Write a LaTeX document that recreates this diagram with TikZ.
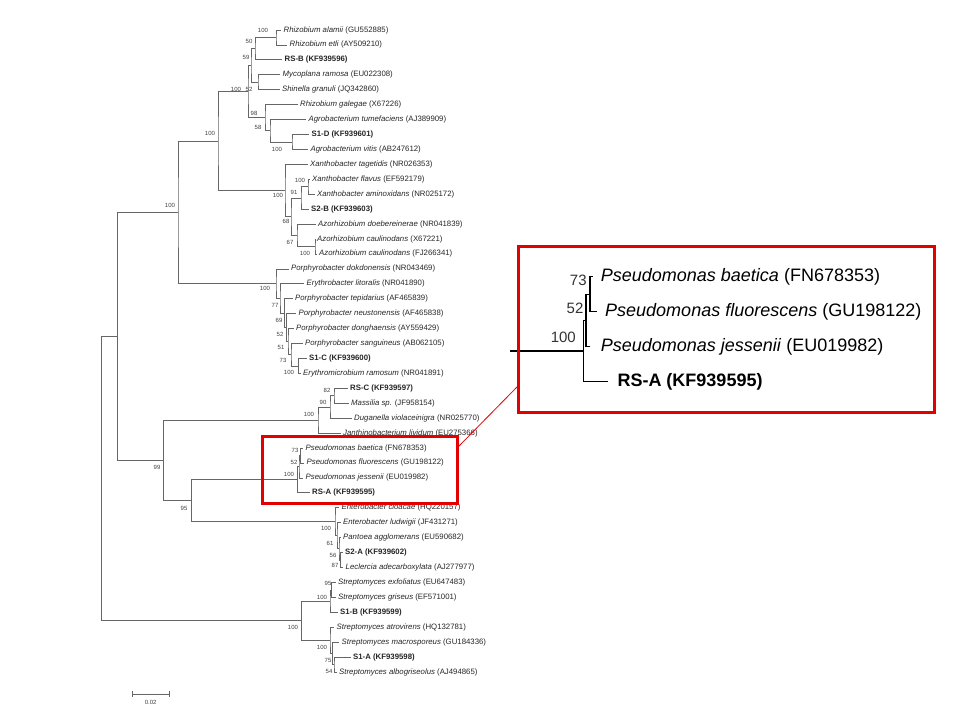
\documentclass[tikz,border=0pt]{standalone}
\usepackage{fontspec}
\setmainfont{Liberation Sans}
\usetikzlibrary{calc}
\definecolor{boxred}{RGB}{226,0,0}
\tikzset{
  br/.style={draw=black!60, line width=0.75pt},
  leaftext/.style={anchor=west, inner sep=0pt, font=\fontsize{7.8}{9}\selectfont, text=black!85},
  bs/.style={inner sep=0pt, font=\fontsize{6}{7}\selectfont, text=black!75},
  ibr/.style={draw=black, line width=1.3pt},
  itext/.style={anchor=west, inner sep=0pt, font=\fontsize{18}{21}\selectfont, text=black},
  ibs/.style={inner sep=0pt, font=\fontsize{15}{17}\selectfont, text=black!80},
  redbox/.style={draw=boxred, line width=3pt, inner sep=0pt},
}
\newcommand{\mkleaf}[4]{\coordinate (#1) at (#2,#3); \node[leaftext] (#1t) at ([xshift=2.5pt]#1) {#4};}
\begin{document}
\begin{tikzpicture}[x=1pt,y=-1pt]
\fill[white] (0,0) rectangle (960,720);
\useasboundingbox (0,0) rectangle (960,720);
% leaves
\mkleaf{L1}{281}{30.00}{\textit{Rhizobium alamii} (GU552885)}
\mkleaf{L2}{287}{44.93}{\textit{Rhizobium etli} (AY509210)}
\mkleaf{L3}{282}{59.86}{\textbf{RS-B (KF939596)}}
\mkleaf{L4}{280}{74.79}{\textit{Mycoplana ramosa} (EU022308)}
\mkleaf{L5}{279.5}{89.72}{\textit{Shinella granuli} (JQ342860)}
\mkleaf{L6}{297.5}{104.65}{\textit{Rhizobium galegae} (X67226)}
\mkleaf{L7}{306}{119.58}{\textit{Agrobacterium tumefaciens} (AJ389909)}
\mkleaf{L8}{309}{134.51}{\textbf{S1-D (KF939601)}}
\mkleaf{L9}{308}{149.44}{\textit{Agrobacterium vitis} (AB247612)}
\mkleaf{L10}{307.5}{164.37}{\textit{Xanthobacter tagetidis} (NR026353)}
\mkleaf{L11}{309.5}{179.30}{\textit{Xanthobacter flavus} (EF592179)}
\mkleaf{L12}{314.5}{194.23}{\textit{Xanthobacter aminoxidans} (NR025172)}
\mkleaf{L13}{308.5}{209.16}{\textbf{S2-B (KF939603)}}
\mkleaf{L14}{315.5}{224.09}{\textit{Azorhizobium doebereinerae} (NR041839)}
\mkleaf{L15}{314.5}{239.02}{\textit{Azorhizobium caulinodans} (X67221)}
\mkleaf{L16}{316.5}{253.95}{\textit{Azorhizobium caulinodans} (FJ266341)}
\mkleaf{L17}{288.5}{268.88}{\textit{Porphyrobacter dokdonensis} (NR043469)}
\mkleaf{L18}{304}{283.81}{\textit{Erythrobacter litoralis} (NR041890)}
\mkleaf{L19}{292.5}{298.74}{\textit{Porphyrobacter tepidarius} (AF465839)}
\mkleaf{L20}{296}{313.67}{\textit{Porphyrobacter neustonensis} (AF465838)}
\mkleaf{L21}{293.5}{328.60}{\textit{Porphyrobacter donghaensis} (AY559429)}
\mkleaf{L22}{302.5}{343.53}{\textit{Porphyrobacter sanguineus} (AB062105)}
\mkleaf{L23}{306.5}{358.46}{\textbf{S1-C (KF939600)}}
\mkleaf{L24}{300.5}{373.39}{\textit{Erythromicrobium ramosum} (NR041891)}
\mkleaf{L25}{347.5}{388.32}{\textbf{RS-C (KF939597)}}
\mkleaf{L26}{348.5}{403.25}{\textit{Massilia sp.} (JF958154)}
\mkleaf{L27}{351.5}{418.18}{\textit{Duganella violaceinigra} (NR025770)}
\mkleaf{L28}{340.5}{433.11}{\textit{Janthinobacterium lividum} (EU275366)}
\mkleaf{L29}{303}{448.04}{\textit{Pseudomonas baetica} (FN678353)}
\mkleaf{L30}{304}{462.97}{\textit{Pseudomonas fluorescens} (GU198122)}
\mkleaf{L31}{303}{477.90}{\textit{Pseudomonas jessenii} (EU019982)}
\mkleaf{L32}{309.5}{492.83}{\textbf{RS-A (KF939595)}}
\mkleaf{L33}{339}{507.76}{\textit{Enterobacter cloacae} (HQ220157)}
\mkleaf{L34}{340.5}{522.69}{\textit{Enterobacter ludwigii} (JF431271)}
\mkleaf{L35}{340.5}{537.62}{\textit{Pantoea agglomerans} (EU590682)}
\mkleaf{L36}{342.5}{552.55}{\textbf{S2-A (KF939602)}}
\mkleaf{L37}{343}{567.48}{\textit{Leclercia adecarboxylata} (AJ277977)}
\mkleaf{L38}{335.5}{582.41}{\textit{Streptomyces exfoliatus} (EU647483)}
\mkleaf{L39}{335.5}{597.34}{\textit{Streptomyces griseus} (EF571001)}
\mkleaf{L40}{337.5}{612.27}{\textbf{S1-B (KF939599)}}
\mkleaf{L41}{334}{627.20}{\textit{Streptomyces atrovirens} (HQ132781)}
\mkleaf{L42}{339}{642.13}{\textit{Streptomyces macrosporeus} (GU184336)}
\mkleaf{L43}{350.5}{657.06}{\textbf{S1-A (KF939598)}}
\mkleaf{L44}{336.5}{671.99}{\textit{Streptomyces albogriseolus} (AJ494865)}
% internal nodes
\coordinate (ae) at (276,37.47);
\coordinate (aeR) at (255,48.66);
\coordinate (MS) at (258,82.26);
\coordinate (n59) at (251,65.46);
\coordinate (SV) at (292,141.98);
\coordinate (n58) at (270,130.78);
\coordinate (n98) at (265,117.71);
\coordinate (R) at (248,91.59);
\coordinate (fa) at (308,186.77);
\coordinate (n91) at (301,197.96);
\coordinate (Az) at (315,246.49);
\coordinate (n67) at (297,235.29);
\coordinate (n68) at (291,216.63);
\coordinate (X) at (285,190.50);
\coordinate (al1) at (218,141.05);
\coordinate (SE) at (298.5,365.93);
\coordinate (n73p) at (291,354.73);
\coordinate (n51) at (288,341.67);
\coordinate (n52p) at (286.5,327.67);
\coordinate (n69) at (284.5,313.21);
\coordinate (n77) at (280,298.51);
\coordinate (P100) at (276,283.70);
\coordinate (top) at (178,212.38);
\coordinate (RM) at (334,395.79);
\coordinate (n90) at (330,406.99);
\coordinate (b100) at (318,420.05);
\coordinate (bf) at (300.5,455.51);
\coordinate (n52s) at (299,466.71);
\coordinate (Ps) at (297.5,479.77);
\coordinate (en87) at (340.5,560.02);
\coordinate (en56) at (339,548.82);
\coordinate (en61) at (337,535.76);
\coordinate (en100) at (335,521.76);
\coordinate (n95) at (191.7,500.77);
\coordinate (B) at (163.3,460.41);
\coordinate (A) at (117.7,336.40);
\coordinate (s95) at (331.7,589.88);
\coordinate (s100a) at (330,601.08);
\coordinate (s54) at (334,664.53);
\coordinate (s75) at (332.7,653.33);
\coordinate (st100) at (330,640.27);
\coordinate (S100) at (301.7,620.68);
\coordinate (root) at (101.7,478.54);
% branches
\draw[br] (L1) -| (ae) |- (L2);
\draw[br] (ae) -| (aeR) |- (L3);
\draw[br] (L4) -| (MS) |- (L5);
\draw[br] (aeR) -| (n59) |- (MS);
\draw[br] (L8) -| (SV) |- (L9);
\draw[br] (L7) -| (n58) |- (SV);
\draw[br] (L6) -| (n98) |- (n58);
\draw[br] (n59) -| (R) |- (n98);
\draw[br] (L11) -| (fa) |- (L12);
\draw[br] (fa) -| (n91) |- (L13);
\draw[br] (L15) -| (Az) |- (L16);
\draw[br] (L14) -| (n67) |- (Az);
\draw[br] (n91) -| (n68) |- (n67);
\draw[br] (L10) -| (X) |- (n68);
\draw[br] (R) -| (al1) |- (X);
\draw[br] (L23) -| (SE) |- (L24);
\draw[br] (L22) -| (n73p) |- (SE);
\draw[br] (L21) -| (n51) |- (n73p);
\draw[br] (L20) -| (n52p) |- (n51);
\draw[br] (L19) -| (n69) |- (n52p);
\draw[br] (L18) -| (n77) |- (n69);
\draw[br] (L17) -| (P100) |- (n77);
\draw[br] (al1) -| (top) |- (P100);
\draw[br] (L25) -| (RM) |- (L26);
\draw[br] (RM) -| (n90) |- (L27);
\draw[br] (n90) -| (b100) |- (L28);
\draw[br] (L29) -| (bf) |- (L30);
\draw[br] (bf) -| (n52s) |- (L31);
\draw[br] (n52s) -| (Ps) |- (L32);
\draw[br] (L36) -| (en87) |- (L37);
\draw[br] (L35) -| (en56) |- (en87);
\draw[br] (L34) -| (en61) |- (en56);
\draw[br] (L33) -| (en100) |- (en61);
\draw[br] (Ps) -| (n95) |- (en100);
\draw[br] (b100) -| (B) |- (n95);
\draw[br] (top) -| (A) |- (B);
\draw[br] (L38) -| (s95) |- (L39);
\draw[br] (s95) -| (s100a) |- (L40);
\draw[br] (L43) -| (s54) |- (L44);
\draw[br] (L42) -| (s75) |- (s54);
\draw[br] (L41) -| (st100) |- (s75);
\draw[br] (s100a) -| (S100) |- (st100);
\draw[br] (A) -| (root) |- (S100);
% bootstrap values
\node[bs] (b-ae) at (263,30) {100};
\node[bs] (b-aeR) at (249,41) {50};
\node[bs] (b-n59) at (246,57) {59};
\node[bs] (b-MS) at (249,89) {52};
\node[bs] (b-R) at (236,89) {100};
\node[bs] (b-n98) at (254,113) {98};
\node[bs] (b-n58) at (258,127) {58};
\node[bs] (b-SV) at (277,149) {100};
\node[bs] (b-al1) at (210,133) {100};
\node[bs] (b-X) at (278,195) {100};
\node[bs] (b-fa) at (300,180) {100};
\node[bs] (b-n91) at (294,192) {91};
\node[bs] (b-n68) at (286,221) {68};
\node[bs] (b-n67) at (290,242) {67};
\node[bs] (b-Az) at (305,253) {100};
\node[bs] (b-top) at (170,205) {100};
\node[bs] (b-P100) at (265,288) {100};
\node[bs] (b-n77) at (275,305) {77};
\node[bs] (b-n69) at (279,320) {69};
\node[bs] (b-n52p) at (280,334) {52};
\node[bs] (b-n51) at (281,347) {51};
\node[bs] (b-n73p) at (283,360) {73};
\node[bs] (b-SE) at (289,372) {100};
\node[bs] (b-RM) at (327,390) {82};
\node[bs] (b-n90) at (323,402) {90};
\node[bs] (b-b100) at (309,414) {100};
\node[bs] (b-bf) at (295,450) {73};
\node[bs] (b-n52s) at (294,462) {52};
\node[bs] (b-Ps) at (289,474) {100};
\node[bs] (b-B) at (157,467) {99};
\node[bs] (b-n95) at (184,508) {95};
\node[bs] (b-en100) at (326,528) {100};
\node[bs] (b-en61) at (330,543) {61};
\node[bs] (b-en56) at (333,555) {56};
\node[bs] (b-en87) at (335,565) {87};
\node[bs] (b-s95) at (328,583) {95};
\node[bs] (b-s100a) at (322,597) {100};
\node[bs] (b-S100) at (293,627) {100};
\node[bs] (b-st100) at (322,647) {100};
\node[bs] (b-s75) at (328,660) {75};
\node[bs] (b-s54) at (329,671) {54};
% scale bar
\coordinate (sb1) at (132.7,694);
\coordinate (sb2) at (169,694);
\draw[br] (sb1) -- (sb2);
\draw[br] ([yshift=3pt]sb1) -- ([yshift=-3pt]sb1);
\draw[br] ([yshift=3pt]sb2) -- ([yshift=-3pt]sb2);
\node[bs] (sbl) at (150.7,702.5) {0.02};
% inset
\coordinate (istem) at (510,351);
\coordinate (iP) at (583.3,351);
\coordinate (i52) at (586,320.4);
\coordinate (i73) at (590,294.2);
\coordinate (iL29) at (592.7,276.7);
\coordinate (iL30) at (596.7,311.7);
\coordinate (iL31) at (590,346.7);
\coordinate (iL32) at (608,381.7);
\draw[ibr] (istem) -- (iP);
\draw[ibr] (iL29) -| (i73) |- (iL30);
\draw[ibr] (i73) -| (i52) |- (iL31);
\draw[ibr] (i52) -| (iP) |- (iL32);
\node[itext] (iT29) at (600.7,276.7) {\textit{Pseudomonas baetica} (FN678353)};
\node[itext] (iT30) at (605,311.7) {\textit{Pseudomonas fluorescens} (GU198122)};
\node[itext] (iT31) at (600.7,346.7) {\textit{Pseudomonas jessenii} (EU019982)};
\node[itext] (iT32) at (617.3,381.7) {\textbf{RS-A (KF939595)}};
\node[ibs] (ib73) at (578.3,280) {73};
\node[ibs] (ib52) at (575,308.3) {52};
\node[ibs] (ib100) at (563.3,337.7) {100};
% red boxes
\node[redbox, minimum width=416.5pt, minimum height=166pt] (bigbox) at (726.25,329.5) {};
\node[redbox, minimum width=195pt, minimum height=66.5pt] (smallbox) at (359.5,469.75) {};
\coordinate (zA) at (457,448);
\coordinate (zB) at (518,386);
\draw[boxred, line width=0.8pt] (zA) -- (zB);
\end{tikzpicture}
\end{document}
